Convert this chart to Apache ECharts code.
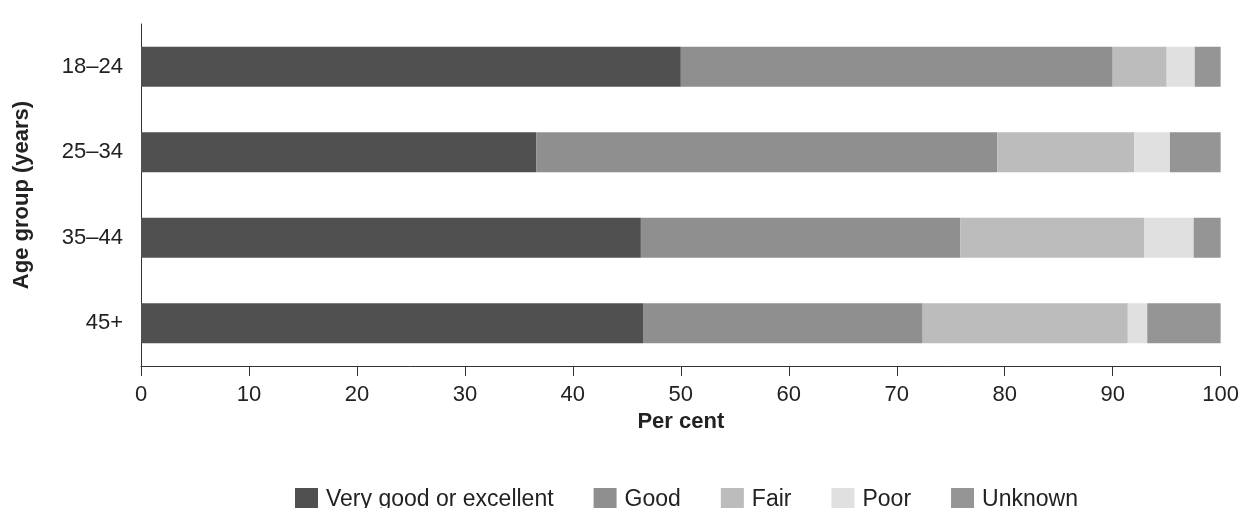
<!DOCTYPE html>
<html><head><meta charset="utf-8">
<script src="https://cdn.jsdelivr.net/npm/echarts@6/dist/echarts.min.js"></script>
<style>html,body{margin:0;padding:0;background:#fff}#c{width:1242px;height:508px}</style>
</head><body><div id="c"></div>
<script>
const categories = ['18–24', '25–34', '35–44', '45+'];
const veryGood = [50.0, 36.6, 46.3, 46.5];
const good = [40.0, 42.7, 29.6, 25.9];
const fair = [5.0, 12.7, 17.0, 19.0];
const poor = [2.6, 3.3, 4.6, 1.8];
const unknown = [2.4, 4.7, 2.5, 6.8];
const seriesNames = ['Very good or excellent', 'Good', 'Fair', 'Poor', 'Unknown'];
const colors = ['#505050', '#8f8f8f', '#bcbcbc', '#e0e0e0', '#959595'];
const xTicks = [0, 10, 20, 30, 40, 50, 60, 70, 80, 90, 100];

const font = 'Liberation Sans, Arial, sans-serif';
const chart = echarts.init(document.getElementById('c'), null, {renderer: 'canvas'});
const dataSets = [veryGood, good, fair, poor, unknown];
chart.setOption({
  animation: false,
  backgroundColor: '#fff',
  color: colors,
  grid: {left: 141, right: 20, top: 24, bottom: 142, containLabel: false},
  legend: {
    left: 290, top: 483, itemWidth: 23, itemHeight: 23, itemGap: 40,
    icon: 'rect',
    textStyle: {fontFamily: font, fontSize: 23, color: '#222', padding: [0, 0, 0, 3]},
    data: seriesNames
  },
  xAxis: {
    type: 'value', min: xTicks[0], max: xTicks[xTicks.length - 1], interval: 10,
    name: 'Per cent', nameLocation: 'middle', nameGap: 44,
    nameTextStyle: {fontFamily: font, fontSize: 22, fontWeight: 'bold', color: '#222'},
    axisLine: {show: true, lineStyle: {color: '#333', width: 1}},
    axisTick: {show: true, length: 10, lineStyle: {color: '#333'}},
    axisLabel: {fontFamily: font, fontSize: 22, color: '#222', margin: 18},
    splitLine: {show: false}
  },
  yAxis: {
    type: 'category', data: categories, inverse: true,
    name: 'Age group (years)', nameLocation: 'middle', nameGap: 108, nameRotate: 90,
    nameTextStyle: {fontFamily: font, fontSize: 22, fontWeight: 'bold', color: '#222'},
    axisLine: {show: true, lineStyle: {color: '#333', width: 1}},
    axisTick: {show: false},
    axisLabel: {fontFamily: font, fontSize: 22, color: '#222', margin: 18}
  },
  series: seriesNames.map((n, i) => ({
    name: n, type: 'bar', stack: 'total', barWidth: 40,
    data: dataSets[i],
    itemStyle: {color: colors[i]}
  }))
});
</script></body></html>
